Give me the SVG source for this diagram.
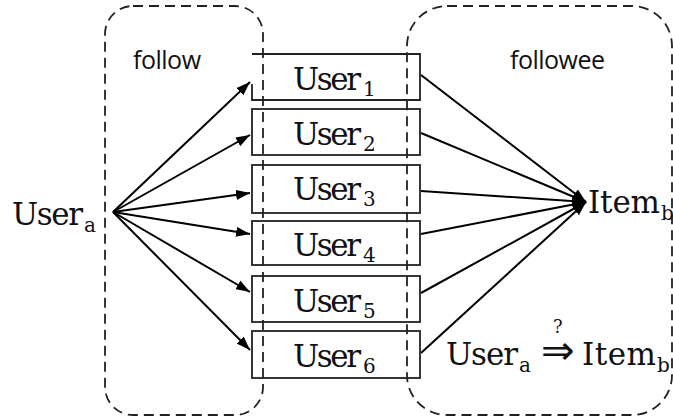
<svg xmlns="http://www.w3.org/2000/svg" width="673" height="420" viewBox="0 0 673 420">
<style>
.grp{fill:none;stroke:#222;stroke-width:1.8;stroke-dasharray:10 6}
.box{fill:none;stroke:#222;stroke-width:1.8}
.edge{fill:none;stroke:#000;stroke-width:2;marker-end:url(#ah)}
.sans{font-family:"Open Sans","Liberation Sans",sans-serif;font-size:25px;fill:#111}
.m{font-family:"DejaVu Serif","Liberation Serif",serif;font-size:31px;fill:#111}
.s{font-family:"DejaVu Serif","Liberation Serif",serif;font-size:20px;fill:#111}
</style>
<defs>
<marker id="ah" markerUnits="userSpaceOnUse" viewBox="0 0 14 10" refX="14" refY="5" markerWidth="14" markerHeight="10" orient="auto">
<path d="M0,0 L14,5 L0,10 z" fill="#000"/>
</marker>
</defs>
<rect width="673" height="420" fill="#fff"/>
<g id="group-follow">
<rect class="grp" x="105" y="6" width="158" height="409" rx="28" ry="28"/>
<text class="sans" x="133" y="69" textLength="68">follow</text>
</g>
<g id="group-followee">
<rect class="grp" x="407" y="6" width="265" height="409" rx="40" ry="40"/>
<text class="sans" x="510" y="69" textLength="95">followee</text>
</g>
<g id="connectors">
<line class="edge" x1="113" y1="212" x2="250" y2="82"/>
<line class="edge" x1="113" y1="212" x2="250" y2="135"/>
<line class="edge" x1="113" y1="212" x2="250" y2="193"/>
<line class="edge" x1="113" y1="212" x2="250" y2="234"/>
<line class="edge" x1="113" y1="212" x2="250" y2="292"/>
<line class="edge" x1="113" y1="212" x2="250" y2="350"/>
<line class="edge" x1="421" y1="75" x2="586" y2="202"/>
<line class="edge" x1="421" y1="133" x2="586" y2="202"/>
<line class="edge" x1="421" y1="191" x2="586" y2="202"/>
<line class="edge" x1="421" y1="234" x2="586" y2="202"/>
<line class="edge" x1="421" y1="293" x2="586" y2="202"/>
<line class="edge" x1="421" y1="353" x2="586" y2="202"/>
</g>
<g id="user-a">
<text class="m" x="12" y="225" textLength="71">User</text>
<text class="s" x="84" y="232">a</text>
</g>
<g id="user-1">
<path class="box" d="M252,54 H420 V100 H252 V84"/>
<text class="m" x="293" y="90" textLength="68">User</text>
<text class="s" x="363" y="96">1</text>
</g>
<g id="user-2">
<rect class="box" x="252" y="109" width="168" height="46"/>
<text class="m" x="293" y="145" textLength="68">User</text>
<text class="s" x="363" y="151">2</text>
</g>
<g id="user-3">
<rect class="box" x="252" y="165" width="168" height="48"/>
<text class="m" x="293" y="200" textLength="68">User</text>
<text class="s" x="363" y="206">3</text>
</g>
<g id="user-4">
<rect class="box" x="252" y="221" width="168" height="44"/>
<text class="m" x="293" y="256" textLength="68">User</text>
<text class="s" x="363" y="262">4</text>
</g>
<g id="user-5">
<rect class="box" x="252" y="276" width="168" height="46"/>
<text class="m" x="293" y="312" textLength="68">User</text>
<text class="s" x="363" y="318">5</text>
</g>
<g id="user-6">
<rect class="box" x="252" y="331" width="168" height="47"/>
<text class="m" x="293" y="367" textLength="68">User</text>
<text class="s" x="363" y="373">6</text>
</g>
<g id="item-b">
<text class="m" x="588" y="213" textLength="72">Item</text>
<text class="s" x="661" y="220">b</text>
</g>
<g id="relation">
<text class="m" x="446" y="365" textLength="72">User</text>
<text class="s" x="519" y="372">a</text>
<text x="541" y="364" textLength="35" style="font-family:'DejaVu Sans',sans-serif;font-size:40px;fill:#111">⇒</text>
<text class="s" x="553" y="333" style="font-size:18px">?</text>
<text class="m" x="582" y="365" textLength="74">Item</text>
<text class="s" x="657" y="372">b</text>
</g>
</svg>
